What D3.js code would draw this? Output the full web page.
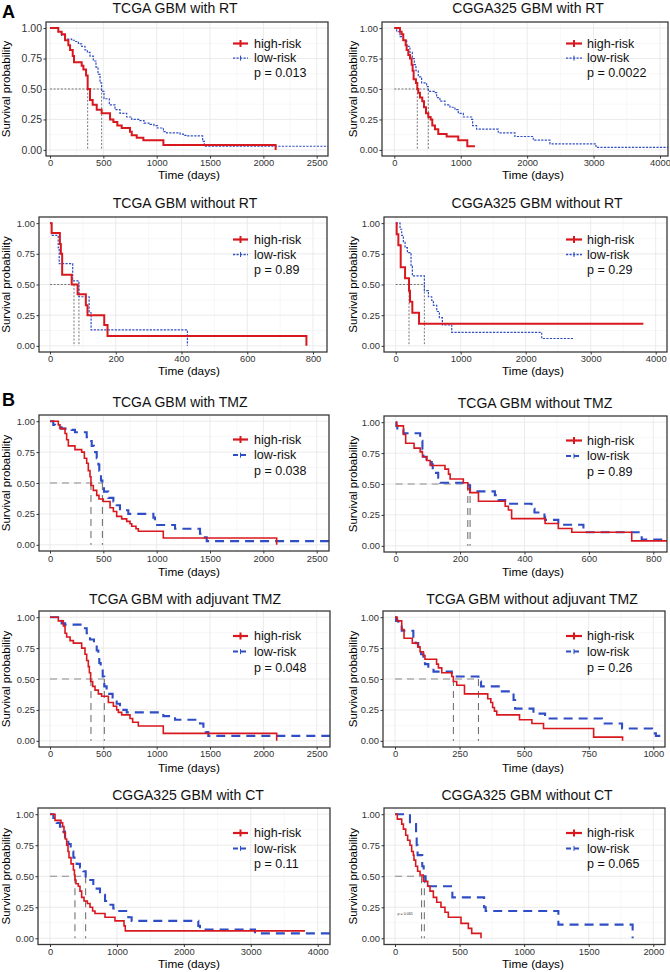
<!DOCTYPE html>
<html><head><meta charset="utf-8">
<script src="https://cdn.jsdelivr.net/npm/d3@7"></script>
<style>
body{margin:0;background:#fff}
svg{display:block}
text{font-family:"Liberation Sans",Arial,Helvetica,sans-serif}
</style>
</head><body>
<svg id="chart" width="670" height="972"></svg>
<script>
// ---------------- DATA ----------------
const panelTitles = ["TCGA GBM with RT","CGGA325 GBM with RT","TCGA GBM without RT","CGGA325 GBM without RT",
  "TCGA GBM with TMZ","TCGA GBM without TMZ","TCGA GBM with adjuvant TMZ","TCGA GBM without adjuvant TMZ",
  "CGGA325 GBM with CT","CGGA325 GBM without CT"];
const pLabels = ["p = 0.013","p = 0.0022","p = 0.89","p = 0.29","p = 0.038","p = 0.89","p = 0.048","p = 0.26","p = 0.11","p = 0.065"];
const groupNames = ["high-risk","low-risk"];
const yTicks = [0,0.25,0.5,0.75,1];
const xTicks = [
  [0,500,1000,1500,2000,2500],[0,1000,2000,3000,4000],
  [0,200,400,600,800],[0,1000,2000,3000,4000],
  [0,500,1000,1500,2000,2500],[0,200,400,600,800],
  [0,500,1000,1500,2000,2500],[0,250,500,750,1000],
  [0,1000,2000,3000,4000],[0,500,1000,1500,2000]];
// median survival times [high, low]
const medians = [[353,484],[346,512],[73,88],[205,441],[384,491],[224,231],[384,509],[226,323],[373,533],[206,227]];

// Kaplan-Meier steps: [time (days), survival after that time]
const tcgaRT_high = [[0,1],[78,0.97],[109,0.95],[141,0.9],[172,0.86],[188,0.82],[213,0.77],[225,0.72],[297,0.69],[313,0.66],[338,0.61],[353,0.5],[375,0.41],[400,0.37],[438,0.33],[484,0.30],[563,0.25],[594,0.23],[631,0.2],[672,0.18],[750,0.15],[766,0.12],[813,0.1],[875,0.08],[1063,0.04],[2115,0.04],[2115,0]];
const tcgaRT_low = [[0,1],[78,0.97],[109,0.94],[141,0.91],[203,0.9],[235,0.89],[266,0.87],[297,0.85],[328,0.82],[350,0.8],[375,0.77],[406,0.73],[431,0.68],[450,0.62],[469,0.55],[484,0.48],[506,0.42],[556,0.37],[609,0.33],[656,0.30],[719,0.27],[766,0.25],[844,0.24],[881,0.22],[938,0.21],[975,0.2],[1006,0.18],[1063,0.15],[1094,0.14],[1219,0.13],[1250,0.12],[1281,0.115],[1431,0.07],[1447,0.03],[2700,0.03]];
const cggaRT_high = [[0,1],[85,0.97],[110,0.95],[135,0.9],[171,0.86],[186,0.82],[211,0.78],[236,0.75],[261,0.7],[276,0.65],[291,0.58],[326,0.55],[346,0.5],[361,0.47],[386,0.43],[421,0.4],[447,0.35],[477,0.3],[512,0.27],[547,0.25],[572,0.2],[612,0.17],[662,0.13],[788,0.11],[963,0.08],[1099,0.03],[1214,0.03]];
const cggaRT_low = [[0,1],[35,0.97],[85,0.93],[135,0.9],[186,0.85],[236,0.8],[271,0.75],[301,0.7],[326,0.65],[361,0.6],[411,0.55],[487,0.52],[512,0.48],[602,0.47],[637,0.43],[687,0.40],[763,0.37],[838,0.35],[913,0.33],[963,0.3],[1039,0.27],[1164,0.25],[1179,0.2],[1239,0.17],[1565,0.14],[1816,0.11],[2092,0.08],[2343,0.05],[3036,0.02],[4300,0.02]];
const tcgaNoRT_high = [[0,1],[5,0.92],[30,0.83],[33,0.75],[37,0.58],[66,0.5],[84,0.42],[109,0.33],[114,0.25],[165,0.17],[175,0.08],[780,0.08],[780,0]];
const tcgaNoRT_low = [[0,1],[5,0.9],[25,0.8],[28,0.67],[69,0.53],[88,0.4],[119,0.27],[125,0.13],[418,0.13],[418,0]];
const cggaNoRT_high = [[0,1],[15,0.91],[41,0.82],[77,0.64],[144,0.55],[205,0.45],[220,0.36],[256,0.27],[359,0.18],[3810,0.18]];
const cggaNoRT_low = [[0,1],[67,0.95],[92,0.9],[118,0.85],[144,0.8],[180,0.76],[236,0.65],[256,0.57],[441,0.45],[503,0.4],[554,0.37],[580,0.33],[631,0.28],[672,0.23],[718,0.17],[862,0.11],[2246,0.06],[2733,0.06]];
const tcgaTMZ_high = [[0,1],[78,0.97],[94,0.94],[141,0.9],[156,0.85],[172,0.8],[234,0.77],[297,0.75],[322,0.7],[344,0.66],[359,0.6],[375,0.55],[384,0.48],[406,0.44],[438,0.4],[459,0.37],[500,0.35],[563,0.3],[594,0.27],[625,0.23],[672,0.21],[719,0.19],[750,0.17],[766,0.15],[806,0.13],[828,0.11],[1062,0.055],[2125,0.055],[2125,0]];
const tcgaTMZ_low = [[0,1],[31,0.97],[47,0.95],[109,0.94],[203,0.93],[234,0.91],[344,0.87],[375,0.84],[391,0.8],[412,0.75],[438,0.7],[453,0.65],[462,0.6],[478,0.52],[491,0.47],[506,0.43],[547,0.38],[594,0.35],[625,0.32],[656,0.28],[734,0.25],[969,0.22],[984,0.16],[1172,0.13],[1406,0.09],[1422,0.06],[1469,0.03],[2700,0.03]];
const tcgaNoTMZ_high = [[0,1],[3,0.97],[24,0.9],[31,0.83],[57,0.79],[76,0.76],[83,0.72],[96,0.69],[107,0.65],[153,0.62],[164,0.58],[169,0.54],[210,0.51],[224,0.46],[230,0.43],[257,0.36],[340,0.32],[350,0.29],[360,0.22],[464,0.18],[505,0.14],[547,0.11],[733,0.04],[900,0.04]];
const tcgaNoTMZ_low = [[0,1],[2,0.97],[5,0.94],[24,0.91],[76,0.85],[83,0.78],[86,0.72],[96,0.69],[112,0.66],[115,0.62],[118,0.59],[132,0.55],[138,0.51],[217,0.49],[231,0.44],[308,0.41],[319,0.37],[340,0.34],[422,0.3],[431,0.27],[462,0.23],[464,0.21],[505,0.17],[583,0.11],[764,0.05],[900,0.05]];
const tcgaAdj_high = [[0,1],[78,0.97],[125,0.93],[141,0.87],[156,0.84],[188,0.81],[219,0.79],[297,0.75],[328,0.7],[344,0.65],[359,0.6],[369,0.55],[381,0.48],[400,0.44],[422,0.41],[453,0.38],[484,0.36],[547,0.31],[594,0.28],[625,0.25],[641,0.23],[672,0.21],[750,0.18],[775,0.15],[828,0.12],[1062,0.06],[2125,0.06],[2125,0]];
const tcgaAdj_low = [[0,1],[94,0.97],[109,0.95],[141,0.94],[312,0.91],[344,0.87],[375,0.82],[412,0.78],[438,0.73],[453,0.69],[462,0.63],[475,0.58],[494,0.52],[509,0.44],[531,0.41],[556,0.38],[587,0.35],[625,0.3],[656,0.27],[688,0.25],[719,0.23],[1062,0.2],[1172,0.17],[1406,0.14],[1438,0.1],[1459,0.07],[1484,0.04],[2700,0.04]];
const tcgaNoAdj_high = [[0,1],[9,0.97],[26,0.9],[35,0.83],[67,0.79],[88,0.76],[97,0.72],[110,0.69],[116,0.66],[161,0.62],[168,0.59],[181,0.55],[220,0.52],[226,0.48],[239,0.45],[269,0.38],[359,0.34],[371,0.31],[378,0.27],[385,0.24],[394,0.21],[482,0.17],[530,0.14],[575,0.1],[769,0.03],[881,0.03],[881,0]];
const tcgaNoAdj_low = [[0,1],[4,0.97],[13,0.94],[26,0.89],[71,0.83],[80,0.79],[90,0.75],[101,0.7],[110,0.66],[116,0.62],[129,0.59],[149,0.56],[220,0.52],[323,0.48],[333,0.44],[407,0.4],[459,0.33],[465,0.26],[536,0.22],[581,0.18],[801,0.14],[879,0.1],[995,0.06],[1010,0.04],[1100,0.04]];
const cggaCT_high = [[0,1],[75,0.95],[164,0.93],[189,0.9],[209,0.85],[229,0.8],[249,0.75],[269,0.7],[284,0.65],[314,0.6],[349,0.55],[365,0.51],[373,0.47],[388,0.44],[423,0.42],[448,0.38],[473,0.33],[508,0.3],[558,0.28],[598,0.25],[637,0.22],[672,0.2],[822,0.17],[971,0.14],[1106,0.1],[1125,0.06],[3810,0.06]];
const cggaCT_low = [[0,1],[50,0.97],[100,0.93],[149,0.9],[199,0.86],[224,0.8],[274,0.76],[309,0.7],[349,0.65],[398,0.6],[448,0.57],[498,0.54],[533,0.48],[573,0.47],[647,0.43],[697,0.4],[747,0.35],[822,0.3],[871,0.27],[946,0.24],[971,0.22],[1170,0.17],[1220,0.14],[2216,0.1],[2241,0.07],[3063,0.04],[4300,0.04]];
const cggaNoCT_high = [[0,1],[18,0.96],[52,0.92],[65,0.88],[83,0.83],[98,0.79],[116,0.75],[129,0.7],[142,0.67],[147,0.63],[160,0.58],[175,0.54],[194,0.51],[219,0.46],[253,0.42],[271,0.38],[297,0.33],[323,0.29],[356,0.25],[387,0.21],[413,0.17],[511,0.12],[568,0.08],[594,0.04],[666,0.04],[666,0]];
const cggaNoCT_low = [[0,1],[116,0.92],[163,0.83],[168,0.75],[175,0.67],[211,0.58],[222,0.5],[237,0.42],[444,0.33],[690,0.25],[702,0.22],[1265,0.11],[1840,0.11],[1840,0]];

const highCurves = [tcgaRT_high,cggaRT_high,tcgaNoRT_high,cggaNoRT_high,tcgaTMZ_high,tcgaNoTMZ_high,tcgaAdj_high,tcgaNoAdj_high,cggaCT_high,cggaNoCT_high];
const lowCurves  = [tcgaRT_low,cggaRT_low,tcgaNoRT_low,cggaNoRT_low,tcgaTMZ_low,tcgaNoTMZ_low,tcgaAdj_low,tcgaNoAdj_low,cggaCT_low,cggaNoCT_low];

// ---------------- LAYOUT ----------------
const rows = [
  {T:22, B:156, tickY:163, xtY:174.5, titleY:8.5, legOff:21.5, legDy:14.6, style:"A"},
  {T:217,B:352, tickY:359, xtY:371, titleY:203, legOff:22.5, legDy:15, style:"A"},
  {T:415,B:551, tickY:558.5, xtY:571.5, titleY:402, legOff:24.5, legDy:15.6, style:"B"},
  {T:611,B:747, tickY:753.5, xtY:768, titleY:599, legOff:25, legDy:15.6, style:"B"},
  {T:808,B:944.5,tickY:951.5,xtY:964,titleY:795, legOff:25, legDy:15.4, style:"B"}];
const panels = [
  {L:46, R:328, x0:50,    refT:2500, refPx:316.7, titleX:175, yFont:10.5},
  {L:382,R:668, x0:394.3, refT:4000, refPx:660,   titleX:528},
  {L:39, R:327, x0:50,    refT:800,  refPx:313,   titleX:185},
  {L:384,R:667, x0:395.7, refT:4000, refPx:655.7, titleX:537},
  {L:39, R:329, x0:50,    refT:2500, refPx:316.7, titleX:180},
  {L:384,R:667, x0:395.7, refT:800,  refPx:653.3, titleX:535, dT:1},
  {L:39, R:330, x0:50,    refT:2500, refPx:316.7, titleX:185},
  {L:383,R:665, x0:395,   refT:1000, refPx:653.3, titleX:532},
  {L:38, R:330, x0:50,    refT:4000, refPx:317.7, titleX:188},
  {L:384,R:665, x0:395,   refT:2000, refPx:653.3, titleX:527}];

const RED = "#D7191F", BLUE = "#2F4DC4";
const svg = d3.select("#chart");
svg.append("rect").attr("width",670).attr("height",972).attr("fill","#fff");
const defs = svg.append("defs");

svg.append("text").attr("x",2).attr("y",18).attr("font-size",18).attr("font-weight","bold").text("A");
svg.append("text").attr("x",2).attr("y",406).attr("font-size",18).attr("font-weight","bold").text("B");

panels.forEach((P,i)=>{
  const row = rows[Math.floor(i/2)];
  const right = i%2===1;
  const T = row.T + (P.dT||0), B = row.B + (P.dT||0);
  const L = P.L, R = P.R;
  const A = row.style === "A";
  const x = d3.scaleLinear().domain([0,P.refT]).range([P.x0,P.refPx]);
  const y = d3.scaleLinear().domain([-0.05,1.05]).range([B,T]);
  const g = svg.append("g");
  defs.append("clipPath").attr("id","clip"+i).append("rect")
    .attr("x",L).attr("y",T).attr("width",R-L).attr("height",B-T);

  // grid
  const tk = xTicks[i], step = tk[1]-tk[0];
  const xMinor = tk.map(t=>t+step/2).filter(t=>x(t)<R);
  const yMinor = [0.125,0.375,0.625,0.875];
  const grid = g.append("g");
  grid.selectAll(".xm").data(xMinor).join("line").attr("x1",d=>x(d)).attr("x2",d=>x(d))
    .attr("y1",T).attr("y2",B).attr("stroke","#f2f2f2").attr("stroke-width",0.6);
  grid.selectAll(".ym").data(yMinor).join("line").attr("x1",L).attr("x2",R)
    .attr("y1",d=>y(d)).attr("y2",d=>y(d)).attr("stroke","#f2f2f2").attr("stroke-width",0.6);
  grid.selectAll(".xM").data(tk.filter(t=>x(t)<R)).join("line").attr("x1",d=>x(d)).attr("x2",d=>x(d))
    .attr("y1",T).attr("y2",B).attr("stroke","#e6e6e6").attr("stroke-width",0.8);
  grid.selectAll(".yM").data(yTicks).join("line").attr("x1",L).attr("x2",R)
    .attr("y1",d=>y(d)).attr("y2",d=>y(d)).attr("stroke","#e6e6e6").attr("stroke-width",0.8);

  // median lines
  const med = medians[i];
  const mg = g.append("g").attr("clip-path",`url(#clip${i})`);
  mg.append("line").attr("x1",x(0)).attr("x2",x(d3.max(med))).attr("y1",y(0.5)).attr("y2",y(0.5))
    .attr("stroke",A?"#555":"#8a8a8a").attr("stroke-width",A?0.8:1)
    .attr("stroke-dasharray",A?"2,1.6":"7,5");
  med.forEach(m=>{
    mg.append("line").attr("x1",x(m)).attr("x2",x(m)).attr("y1",y(0.5)).attr("y2",y(0))
      .attr("stroke",A?"#555":"#666").attr("stroke-width",A?0.8:1)
      .attr("stroke-dasharray",A?"2,1.6":"7,5");
  });

  // curves
  const line = d3.line().x(d=>x(d[0])).y(d=>y(d[1])).curve(d3.curveStepAfter);
  const cg = g.append("g").attr("clip-path",`url(#clip${i})`);
  cg.append("path").datum(lowCurves[i]).attr("d",line).attr("fill","none")
    .attr("stroke",BLUE).attr("stroke-width",A?1.2:2.1)
    .attr("stroke-dasharray",A?"2.2,1.3":"9,6");
  cg.append("path").datum(highCurves[i]).attr("d",line).attr("fill","none")
    .attr("stroke",RED).attr("stroke-width",A?2:1.6);

  // tiny label in last panel
  if (i===9) {
    g.append("text").attr("x",x(20)).attr("y",y(0.2)).attr("dy","0.35em")
      .attr("font-size",3.6).attr("fill","#333").text("p = 0.065");
  }

  // border
  g.append("rect").attr("x",L).attr("y",T).attr("width",R-L).attr("height",B-T)
    .attr("fill","none").attr("stroke","#3a3a3a").attr("stroke-width",1.3);

  // axes
  const ya = g.append("g").attr("transform",`translate(${L},0)`)
    .call(d3.axisLeft(y).tickValues(yTicks).tickFormat(d3.format(".2f")).tickSize(2.5).tickPadding(1.5));
  ya.select(".domain").remove();
  ya.selectAll("line").attr("stroke","#333");
  ya.selectAll("text").attr("font-size",P.yFont||9.4).attr("fill","#333")
    .attr("font-family",'"Liberation Sans",Arial,sans-serif');
  const xa = g.append("g").attr("transform",`translate(0,${B})`)
    .call(d3.axisBottom(x).tickValues(tk).tickFormat(d3.format("d")).tickSize(2.5));
  xa.select(".domain").remove();
  xa.selectAll("line").attr("stroke","#333");
  xa.selectAll("text").attr("y",row.tickY-B).attr("dy","0.35em").attr("font-size",9.4).attr("fill","#333")
    .attr("font-family",'"Liberation Sans",Arial,sans-serif');

  // axis titles
  g.append("text").attr("x",right?533:189).attr("y",row.xtY).attr("dy","0.35em")
    .attr("text-anchor","middle").attr("font-size",11.8).text("Time (days)");
  g.append("text").attr("transform",`translate(${right?353:6},${(T+B)/2}) rotate(-90)`)
    .attr("dy","0.35em").attr("text-anchor","middle").attr("font-size",11.5).text("Survival probability");
  // title
  g.append("text").attr("x",P.titleX).attr("y",row.titleY+(P.dT||0)).attr("dy","0.35em")
    .attr("text-anchor","middle").attr("font-size",14).attr("fill","#111").text(panelTitles[i]);

  // legend
  const lx1 = right?566:233, lx2 = right?582:248, tx = right?587:254;
  const ly = T + row.legOff;
  const lg = g.append("g");
  [0,1].forEach(k=>{
    const yy = ly + k*row.legDy;
    const col = k===0?RED:BLUE;
    lg.append("line").attr("x1",lx1).attr("x2",lx2).attr("y1",yy).attr("y2",yy)
      .attr("stroke",col).attr("stroke-width",k===0?2.2:(A?1.3:2))
      .attr("stroke-dasharray",k===0?null:(A?"2.2,1.3":"5,3"));
    lg.append("line").attr("x1",(lx1+lx2)/2).attr("x2",(lx1+lx2)/2).attr("y1",yy-(k===0?3.5:2.5)).attr("y2",yy+(k===0?3.5:2.5))
      .attr("stroke",col).attr("stroke-width",k===0?2:1);
    lg.append("text").attr("x",tx).attr("y",yy).attr("dy","0.35em").attr("font-size",12.5)
      .attr("fill","#111").text(groupNames[k]);
  });
  lg.append("text").attr("x",tx).attr("y",ly+2*row.legDy).attr("dy","0.35em").attr("font-size",12.5)
    .attr("fill","#111").text(pLabels[i]);
});
</script>
</body></html>
